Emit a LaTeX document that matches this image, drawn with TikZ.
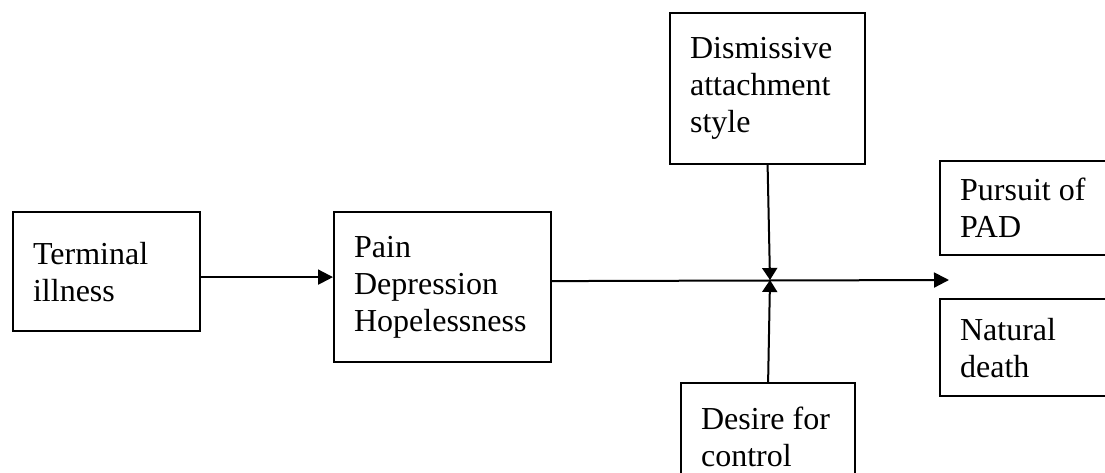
\documentclass[tikz,border=0pt]{standalone}
\usepackage{fontspec}
\setmainfont{Liberation Serif}
\usepackage{tikz}
\usetikzlibrary{arrows.meta}
\tikzstyle{block} = [draw, rectangle, line width=2.2pt, anchor=north west,
    align=flush left, inner xsep=20pt, inner ysep=0pt,
    font=\fontsize{32}{37}\selectfont]
\tikzstyle{arrow} = [line width=2pt, -{Triangle[length=15pt,width=15pt]}]
\tikzstyle{meet} = [line width=2pt, -{Triangle[length=12pt,width=15pt]}]

\begin{document}
\begin{tikzpicture}[x=1pt, y=-1pt]
            \useasboundingbox (0,0) rectangle (1105,473);

            % Blocks
            \node (terminal) [block, text width=147pt, minimum height=119pt] at (12,211) {Terminal\\illness};
            \node (pain) [block, text width=177pt, minimum height=150pt] at (333,211) {Pain\\Depression\\Hopelessness};
            \node (dismissive) [block, text width=155pt, minimum height=151pt] at (669,12) {Dismissive\\attachment\\style};
            \node (desire) [block, text width=134pt, minimum height=108pt] at (680,382) {Desire for\\control};
            \node (pursuit) [block, text width=150pt, minimum height=94pt] at (939,160) {Pursuit of\\PAD};
            \node (natural) [block, text width=150pt, minimum height=97pt] at (939,298) {Natural\\death};

            % Points on the main line
            \coordinate (junction) at (770,280);
            \coordinate (outcome) at (949,280);

            % Arrows
            \draw [arrow] ([yshift=-5.5pt]terminal.east) -- ([yshift=-5.5pt]terminal.east -| pain.west);
            \draw [arrow] ([yshift=6pt]pain.east) -- (outcome);
            \draw [meet] (dismissive.south) -- (junction);
            \draw [meet] (desire.north) -- (junction);

        \end{tikzpicture}
\end{document}
